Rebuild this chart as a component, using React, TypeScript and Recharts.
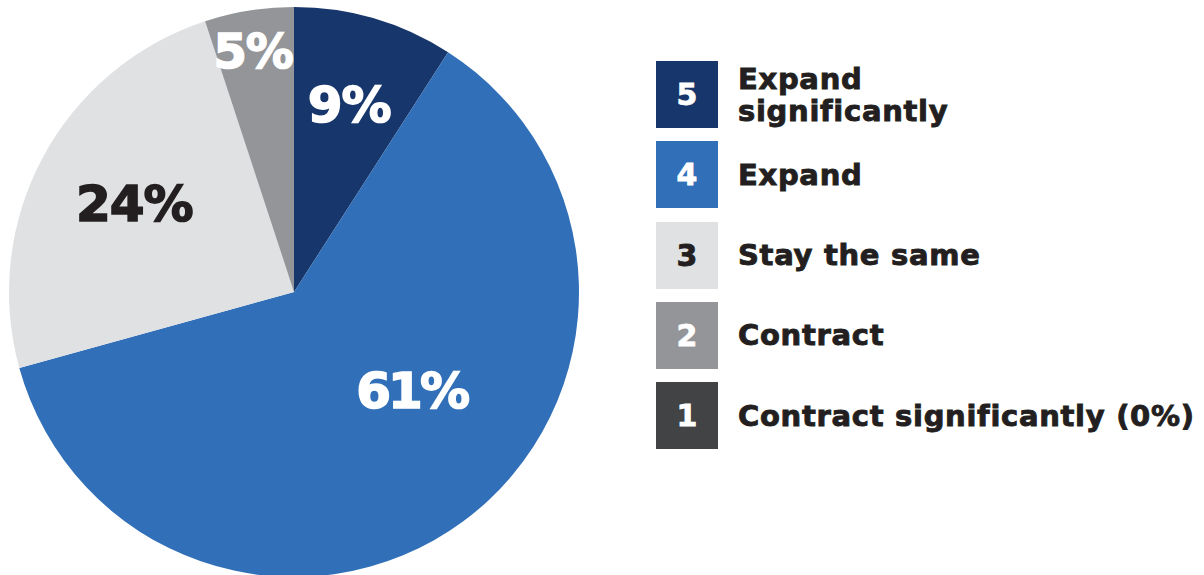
import React from "react";
import { PieChart, Pie, Cell, Legend } from "recharts";

const CATEGORIES = ["Expand significantly", "Expand", "Stay the same", "Contract", "Contract significantly"];
const SCORES = ["5", "4", "3", "2", "1"];
const VALUES = [9, 61, 24, 5, 0];
const LEGEND_LABELS = ["Expand\nsignificantly", "Expand", "Stay the same", "Contract", "Contract significantly (0%)"];

const COLORS = ["#17366b", "#3170b8", "#e0e1e3", "#939598", "#424345"];
const LABEL_COLORS = ["#ffffff", "#ffffff", "#231f20", "#ffffff", "#ffffff"];
const NUM_COLORS = ["#ffffff", "#ffffff", "#231f20", "#ffffff", "#ffffff"];
// label placement: radius and angular offset (deg, math convention)
const LABEL_PLACE = [
  { r: 196, da: 0, fs: 50, ls: -1 },
  { r: 153, da: 13.9, fs: 50, ls: -3 },
  { r: 183, da: -1, fs: 50, ls: -1 },
  { r: 245, da: 0.5, fs: 48, ls: -1 },
  { r: 0, da: 0, fs: 0, ls: 0 },
];

const FONT = "'DejaVu Sans', sans-serif";

const data = CATEGORIES.map((name, i) => ({ name, value: VALUES[i] }));

const RAD = Math.PI / 180;

const renderLabel = (props: any) => {
  const { cx, cy, midAngle, index, value } = props;
  if (!value) return null;
  const p = LABEL_PLACE[index];
  const a = (midAngle + p.da) * RAD;
  const x = cx + p.r * Math.cos(-a);
  const y = cy + p.r * Math.sin(-a);
  return (
    <text
      x={x}
      y={y + p.fs * 0.36}
      textAnchor="middle"
      fill={LABEL_COLORS[index]}
      stroke={LABEL_COLORS[index]}
      strokeWidth={1.6}
      style={{ fontFamily: FONT, fontWeight: 700, fontSize: p.fs, letterSpacing: p.ls }}
    >
      {`${value}%`}
    </text>
  );
};

const renderLegend = () => (
  <div style={{ fontFamily: FONT }}>
    {CATEGORIES.map((c, i) => (
      <div key={c} style={{ display: "flex", alignItems: "center", height: 67, marginBottom: 13.25 }}>
        <div
          style={{
            width: 62,
            height: 67,
            flexShrink: 0,
            background: COLORS[i],
            color: NUM_COLORS[i],
            display: "flex",
            alignItems: "center",
            justifyContent: "center",
            fontSize: 30,
            fontWeight: 700,
            WebkitTextStroke: `0.8px ${NUM_COLORS[i]}`,
          }}
        >
          {SCORES[i]}
        </div>
        <div
          style={{
            marginLeft: 20,
            fontSize: 29,
            fontWeight: 700,
            lineHeight: "32px",
            letterSpacing: 0.7,
            color: "#231f20",
            whiteSpace: "pre-line",
            WebkitTextStroke: "0.9px #231f20",
          }}
        >
          {LEGEND_LABELS[i]}
        </div>
      </div>
    ))}
  </div>
);

export default function App() {
  return (
    <div style={{ position: "absolute", left: 0, top: 0, width: 1204, height: 575, background: "#fff", overflow: "hidden" }}>
      <PieChart width={1204} height={575} margin={{ top: 0, right: 0, bottom: 0, left: 0 }}>
        <Pie
          data={data}
          dataKey="value"
          nameKey="name"
          cx={294}
          cy={292}
          outerRadius={285}
          startAngle={90}
          endAngle={-270}
          stroke="none"
          label={renderLabel}
          labelLine={false}
          isAnimationActive={false}
        >
          {data.map((d, i) => (
            <Cell key={d.name} fill={COLORS[i]} />
          ))}
        </Pie>
        <Legend
          content={renderLegend}
          layout="vertical"
          verticalAlign="middle"
          align="right"
          wrapperStyle={{ position: "absolute", left: 656, top: 61, width: 548 }}
        />
      </PieChart>
    </div>
  );
}
